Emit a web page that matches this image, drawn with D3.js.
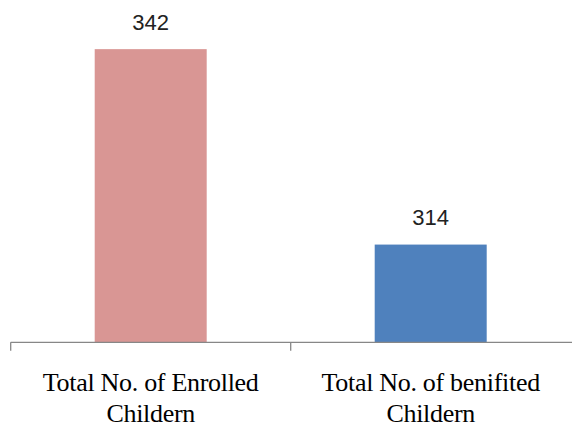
<!DOCTYPE html>
<html><head><meta charset="utf-8">
<script src="https://cdn.jsdelivr.net/npm/d3@7"></script>
<style>body{margin:0;background:#fff}svg{display:block}</style>
</head><body>
<script>
const categories = ["Total No. of Enrolled|Childern", "Total No. of benifited|Childern"];
const values = [342, 314];
const colors = ["#D99694", "#4F81BD"];

const W = 572, H = 425;
const svg = d3.select("body").append("svg").attr("width", W).attr("height", H);

const x0 = 10.7, x1 = 570.7;
const xBand = d3.scaleBand().domain(categories).range([x0, x1]).padding(0);
const xBar = d3.scaleBand().domain(categories).range([x0, x1]).paddingInner(0.6).paddingOuter(0.3);
const y = d3.scaleLinear().domain([300, 350]).range([342.3, -6.7]);

// bars
svg.selectAll("rect.bar").data(categories).join("rect")
  .attr("x", d => xBar(d)).attr("width", xBar.bandwidth())
  .attr("y", (d, i) => y(values[i])).attr("height", (d, i) => y.range()[0] - y(values[i]))
  .attr("fill", (d, i) => colors[i]);

// axis line and ticks
const baseY = y.range()[0];
svg.append("line").attr("x1", x0).attr("x2", W).attr("y1", baseY).attr("y2", baseY)
  .attr("stroke", "#878787").attr("stroke-width", 1.3);
svg.selectAll("line.tick").data(categories).join("line")
  .attr("x1", d => xBand(d)).attr("x2", d => xBand(d))
  .attr("y1", baseY).attr("y2", baseY + 8.5)
  .attr("stroke", "#878787").attr("stroke-width", 1.3);

// value labels
svg.selectAll("text.val").data(categories).join("text")
  .attr("x", d => xBar(d) + xBar.bandwidth() / 2)
  .attr("y", (d, i) => y(values[i]) - 19.5)
  .attr("text-anchor", "middle")
  .attr("font-family", "Liberation Sans, Arial, sans-serif")
  .attr("font-size", 22).attr("fill", "#222")
  .text((d, i) => values[i]);

// category labels
const lab = svg.selectAll("text.cat").data(categories).join("text")
  .attr("text-anchor", "middle")
  .attr("font-family", "Liberation Serif, Times New Roman, serif")
  .attr("font-size", 26).attr("letter-spacing", "-0.3px").attr("fill", "#000");
lab.each(function(d) {
  const parts = d.split("|");
  const cx = xBand(d) + xBand.bandwidth() / 2;
  parts.forEach((p, j) => {
    d3.select(this).append("tspan").attr("x", cx).attr("y", 391 + j * 31).text(p);
  });
});
</script>
</body></html>
